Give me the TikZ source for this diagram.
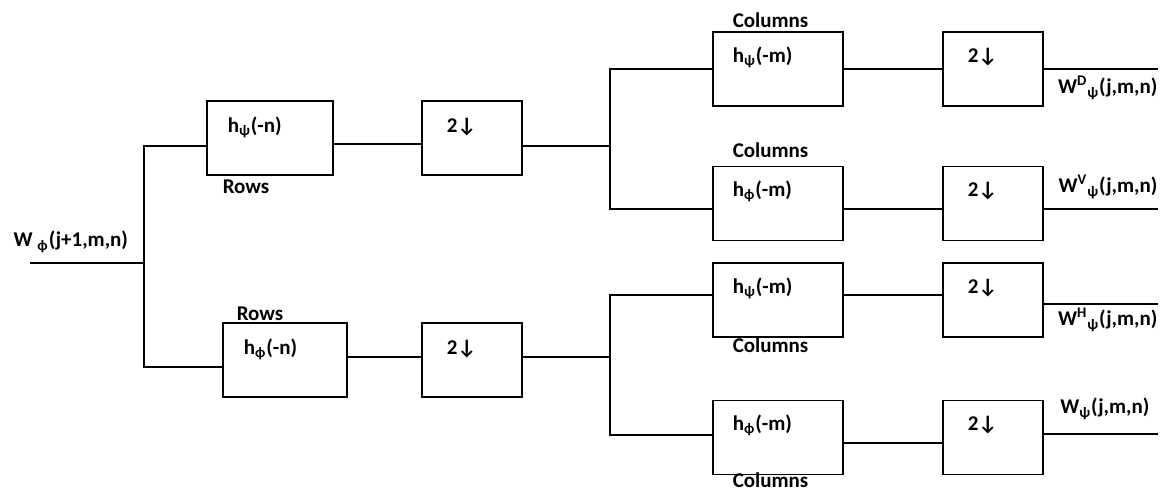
\documentclass[tikz,border=0pt]{standalone}
\usepackage{fontspec}
\setmainfont{Carlito}
\usetikzlibrary{calc}

\begin{document}
\begin{tikzpicture}[x=0.5pt, y=-0.5pt, line width=0.65pt,
  font=\fontsize{10.5}{12.6}\selectfont\bfseries,
  blk/.style={draw, line width=0.9pt, minimum width=#1, minimum height=37pt, inner sep=0pt},
  txt/.style={anchor=west, inner sep=0pt, text height=1.6ex, text depth=.35ex}]

 \useasboundingbox (0,0) rectangle (1163,491);

 %rows stage
 \node[blk=63pt] (r1) at (270,138) {};
 \node[blk=62pt] (r2) at (285,360) {};
 \node[blk=50pt] (d1) at (472,138) {};
 \node[blk=50pt] (d2) at (472,360) {};

 \node[txt] (tr1) at ($(r1.north west)+(21,26)$) {h\textsubscript{ψ}(-n)};
 \node[txt] (tr2) at ($(r2.north west)+(21,26)$) {h\textsubscript{ϕ}(-n)};
 \node[txt] (td1) at ($(d1.north west)+(25,26)$) {2↓};
 \node[txt] (td2) at ($(d2.north west)+(25,26)$) {2↓};
 \node[txt] (rw1) at ($(r1.south west)+(16,12)$) {Rows};
 \node[txt] (rw2) at ($(r2.north west)+(14,-8)$) {Rows};

 %columns stage
 \foreach \n/\y/\g in {c1/69/ψ, c2/203.5/ϕ, c3/300/ψ, c4/437.5/ϕ} {
   \node[blk=65pt] (\n) at (778,\y) {};
   \node[blk=50pt] (d\n) at (993,\y) {};
   \node[txt] (t\n) at ($(\n.north west)+(20,25)$) {h\textsubscript{\g}(-m)};
   \node[txt] (td\n) at ($(d\n.north west)+(25,25)$) {2↓};
 }
 \node[txt] (cl1) at ($(c1.north west)+(20,-10)$) {Columns};
 \node[txt] (cl2) at ($(c2.north west)+(20,-14)$) {Columns};
 \node[txt] (cl3) at ($(c3.south west)+(20,9)$) {Columns};
 \node[txt] (cl4) at ($(c4.south west)+(20,6)$) {Columns};

 % lines
 \coordinate (in) at (30,263);
 \coordinate (sp0) at (144,263);
 \coordinate (sp1) at (610,146);
 \coordinate (sp2) at (610,357);
 \draw (in) -- (sp0);
 \draw (r1.west |- 0,146) -| (sp0) |- (r2.west |- 0,367);
 \draw (r1.east |- 0,144) -- (d1.west |- 0,144);
 \draw (r2.east |- 0,357) -- (d2.west |- 0,357);
 \draw (d1.east |- sp1) -- (sp1);
 \draw (d2.east |- sp2) -- (sp2);
 \draw (c1.west |- 0,69) -| (sp1) |- (c2.west |- 0,209);
 \draw (c3.west |- 0,295) -| (sp2) |- (c4.west |- 0,435);
 \foreach \n/\y in {c1/69, c2/209, c3/295, c4/443}
   \draw (\n.east |- 0,\y) -- (d\n.west |- 0,\y);
 \foreach \n/\y in {c1/69, c2/209, c3/304, c4/434} {
   \coordinate (o\n) at (1158,\y);
   \draw (d\n.east |- o\n) -- (o\n);
 }

 % signal labels
 \node[txt] (win) at (13,241) {W \textsubscript{ϕ}(j+1,m,n)};
 \node[anchor=east, inner sep=0pt] (wD) at ($(oc1)+(0,19)$) {W\textsuperscript{D}\textsubscript{ψ}(j,m,n)};
 \node[anchor=east, inner sep=0pt] (wV) at ($(oc2)+(0,-22)$) {W\textsuperscript{V}\textsubscript{ψ}(j,m,n)};
 \node[anchor=east, inner sep=0pt] (wH) at ($(oc3)+(0,16)$) {W\textsuperscript{H}\textsubscript{ψ}(j,m,n)};
 \node[anchor=east, inner sep=0pt] (wA) at ($(oc4)+(-8,-25)$) {W\textsubscript{ψ}(j,m,n)};

\end{tikzpicture}
\end{document}
